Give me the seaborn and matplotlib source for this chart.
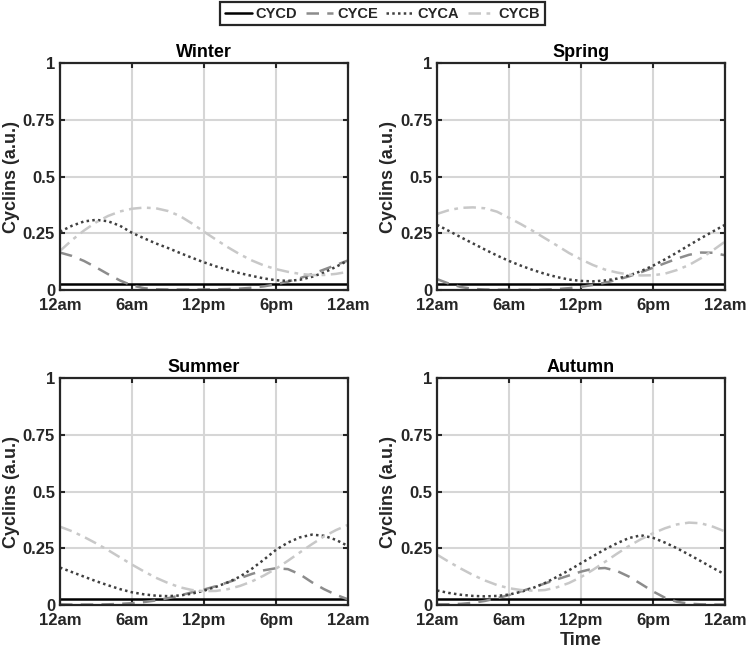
import numpy as np
import pandas as pd
import matplotlib
matplotlib.use("Agg")
import matplotlib.pyplot as plt
from matplotlib.lines import Line2D
import seaborn as sns

# ---------------- data ----------------
hours = list(range(25))
tick_hours = [0, 6, 12, 18, 24]
tick_labels = ["12am", "6am", "12pm", "6pm", "12am"]
y_ticks = [0, 0.25, 0.5, 0.75, 1]
y_tick_labels = ["0", "0.25", "0.5", "0.75", "1"]
seasons = ["Winter", "Spring", "Summer", "Autumn"]
cyclins = ["CYCD", "CYCE", "CYCA", "CYCB"]

cycd_level = [0.028, 0.028, 0.028, 0.028]

winter_cyce = [0.165, 0.150, 0.128, 0.100, 0.070, 0.042, 0.020, 0.008, 0.003, 0.002,
               0.002, 0.002, 0.002, 0.003, 0.004, 0.006, 0.010, 0.016, 0.025, 0.037,
               0.052, 0.070, 0.090, 0.110, 0.130]
winter_cyca = [0.257, 0.283, 0.302, 0.309, 0.303, 0.283, 0.252, 0.228, 0.205, 0.185,
               0.163, 0.142, 0.122, 0.104, 0.088, 0.074, 0.062, 0.051, 0.043, 0.040,
               0.045, 0.058, 0.077, 0.102, 0.130]
winter_cycb = [0.172, 0.220, 0.262, 0.298, 0.326, 0.346, 0.358, 0.363, 0.360, 0.348,
               0.326, 0.293, 0.257, 0.222, 0.188, 0.157, 0.130, 0.108, 0.092, 0.080,
               0.071, 0.066, 0.066, 0.071, 0.080]

spring_cyce = [0.048, 0.028, 0.013, 0.005, 0.002, 0.001, 0.001, 0.001, 0.001, 0.002,
               0.004, 0.008, 0.014, 0.022, 0.032, 0.045, 0.060, 0.078, 0.098, 0.118,
               0.138, 0.155, 0.165, 0.164, 0.153]
spring_cyca = [0.287, 0.260, 0.232, 0.205, 0.178, 0.152, 0.128, 0.107, 0.088, 0.071,
               0.057, 0.046, 0.040, 0.038, 0.042, 0.050, 0.064, 0.083, 0.107, 0.135,
               0.165, 0.197, 0.228, 0.258, 0.287]
spring_cycb = [0.335, 0.352, 0.362, 0.364, 0.360, 0.345, 0.318, 0.290, 0.260, 0.228,
               0.196, 0.163, 0.135, 0.110, 0.090, 0.077, 0.068, 0.064, 0.065, 0.072,
               0.088, 0.110, 0.140, 0.175, 0.213]

summer_cyce = [0.003, 0.002, 0.002, 0.002, 0.003, 0.005, 0.008, 0.013, 0.020, 0.030,
               0.042, 0.056, 0.068, 0.083, 0.100, 0.118, 0.137, 0.153, 0.162, 0.158,
               0.135, 0.100, 0.070, 0.045, 0.025]
summer_cyca = [0.165, 0.145, 0.125, 0.105, 0.087, 0.070, 0.056, 0.047, 0.041, 0.039,
               0.042, 0.050, 0.063, 0.080, 0.100, 0.125, 0.160, 0.200, 0.243, 0.275,
               0.298, 0.310, 0.305, 0.287, 0.260]
summer_cycb = [0.345, 0.325, 0.300, 0.272, 0.242, 0.210, 0.178, 0.148, 0.120, 0.097,
               0.078, 0.066, 0.061, 0.062, 0.070, 0.084, 0.104, 0.130, 0.160, 0.195,
               0.232, 0.268, 0.302, 0.330, 0.353]

autumn_cyce = [0.003, 0.003, 0.005, 0.010, 0.018, 0.030, 0.044, 0.060, 0.077, 0.095,
               0.113, 0.130, 0.147, 0.160, 0.163, 0.150, 0.125, 0.093, 0.060, 0.032,
               0.014, 0.006, 0.003, 0.002, 0.002]
autumn_cyca = [0.064, 0.053, 0.045, 0.040, 0.038, 0.040, 0.046, 0.058, 0.075, 0.097,
               0.124, 0.153, 0.184, 0.215, 0.245, 0.272, 0.295, 0.307, 0.296, 0.275,
               0.250, 0.222, 0.193, 0.163, 0.135]
autumn_cycb = [0.222, 0.190, 0.160, 0.132, 0.108, 0.088, 0.074, 0.066, 0.063, 0.066,
               0.078, 0.097, 0.123, 0.155, 0.190, 0.226, 0.260, 0.290, 0.316, 0.338,
               0.355, 0.363, 0.360, 0.345, 0.324]

season_series = {
    "Winter": (winter_cyce, winter_cyca, winter_cycb),
    "Spring": (spring_cyce, spring_cyca, spring_cycb),
    "Summer": (summer_cyce, summer_cyca, summer_cycb),
    "Autumn": (autumn_cyce, autumn_cyca, autumn_cycb),
}

rows = []
for si, season in enumerate(seasons):
    cyce, cyca, cycb = season_series[season]
    for h, d, e, a, b in zip(hours, [cycd_level[si]] * len(hours), cyce, cyca, cycb):
        rows.append((season, "CYCD", h, d))
        rows.append((season, "CYCE", h, e))
        rows.append((season, "CYCA", h, a))
        rows.append((season, "CYCB", h, b))
df = pd.DataFrame(rows, columns=["season", "cyclin", "hour", "value"])

# ---------------- style ----------------
sns.set_theme(style="white")
plt.rcParams["font.family"] = ["Liberation Sans", "DejaVu Sans"]
plt.rcParams["font.weight"] = "bold"

palette = {"CYCD": "#000000", "CYCE": "#8c8c8c", "CYCA": "#404040", "CYCB": "#c8c8c8"}
dashes = {"CYCD": "", "CYCE": (5.0, 3.3), "CYCA": (1.0, 1.3), "CYCB": (5.0, 2.2, 1.5, 2.2)}
LW = 1.8

fig = plt.figure(figsize=(7.47, 6.53), dpi=100)
positions = {
    "Winter": [0.0803, 0.5559, 0.3855, 0.3476],
    "Spring": [0.5850, 0.5559, 0.3855, 0.3476],
    "Summer": [0.0803, 0.0735, 0.3855, 0.3476],
    "Autumn": [0.5850, 0.0735, 0.3855, 0.3476],
}

for season in seasons:
    ax = fig.add_axes(positions[season])
    sub = df[df["season"] == season]
    sns.lineplot(data=sub, x="hour", y="value", hue="cyclin", hue_order=cyclins,
                 style="cyclin", style_order=cyclins, palette=palette, dashes=dashes,
                 linewidth=LW, ax=ax, legend=False, estimator=None, sort=False)
    ax.set_xlim(0, 24)
    ax.set_ylim(0, 1)
    ax.set_xticks(tick_hours)
    ax.set_xticklabels(tick_labels)
    ax.set_yticks(y_ticks)
    ax.set_yticklabels(y_tick_labels)
    ax.grid(True, color="#d6d6d6", linewidth=1.5)
    ax.set_axisbelow(True)
    ax.tick_params(axis="both", which="both", direction="in", length=3.5, width=1.5,
                   top=True, right=True, bottom=True, left=True, labelsize=12,
                   colors="#262626")
    ax.tick_params(axis="x", pad=5.5)
    ax.tick_params(axis="y", pad=3.5)
    for lab in ax.get_xticklabels() + ax.get_yticklabels():
        lab.set_fontweight("bold")
    for sp in ax.spines.values():
        sp.set_color("#262626")
        sp.set_linewidth(1.6)
        sp.set_visible(True)
    ax.set_title(season, fontsize=13, fontweight="bold", color="#000000", pad=4)
    ax.set_ylabel("Cyclins (a.u.)", fontsize=13, fontweight="bold", color="#262626", labelpad=2)
    if season == "Autumn":
        ax.set_xlabel("Time", fontsize=13, fontweight="bold", color="#262626", labelpad=3)
    else:
        ax.set_xlabel("")

handles = [Line2D([], [], color=palette[c], linewidth=LW,
                  linestyle=(0, dashes[c]) if dashes[c] != "" else "-") for c in cyclins]
leg = fig.legend(handles, cyclins, loc="center", bbox_to_anchor=(0.512, 0.979), ncol=4,
                 frameon=True, fancybox=False, edgecolor="#262626", framealpha=1,
                 prop={"weight": "bold", "size": 10.5}, handlelength=1.85,
                 handletextpad=0.27, columnspacing=0.6, borderpad=0.3)
leg.get_frame().set_linewidth(1.6)

fig.savefig("out.png", dpi=100, facecolor="white")
